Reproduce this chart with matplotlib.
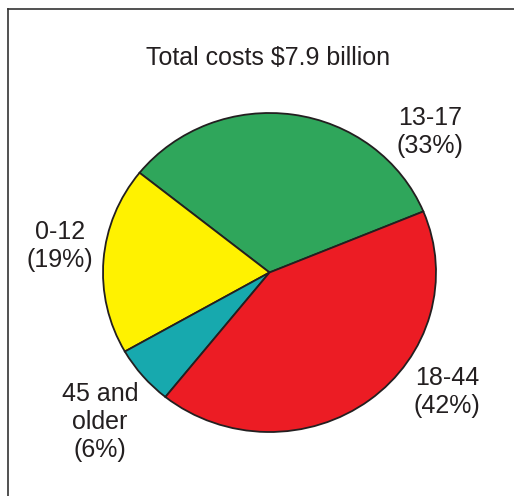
import matplotlib
matplotlib.use('Agg')
import matplotlib.pyplot as plt
from matplotlib.lines import Line2D

# data
groups = ['13-17', '0-12', '45 and\nolder', '18-44']
shares = [33, 19, 6, 42]
colors = ['#2fa65b', '#fff200', '#17a9ae', '#ec1c24']
title = 'Total costs $7.9 billion'

plt.rcParams['font.family'] = ['Liberation Sans', 'DejaVu Sans']
txt_color = '#231f20'

fig = plt.figure(figsize=(5.14, 4.96), dpi=100)
W, H = 514, 496

ax = fig.add_axes([0, 0, 1, 1])
ax.pie(shares, colors=colors, startangle=22.5, counterclock=True,
       wedgeprops=dict(edgecolor='#231f20', linewidth=1.3))

# pie centre and radii in pixels (slightly squashed, like the original)
cx, cy = 269.5, 272.5
rx, ry = 166.5, 159.5
ax.set_aspect('auto')
ax.set_xlim(-cx / rx, (W - cx) / rx)
ax.set_ylim(-(H - cy) / ry, cy / ry)
ax.axis('off')

# frame: left and top edges only
fig.add_artist(Line2D([8 / W, 8 / W], [0, 1 - 8.5 / H], transform=fig.transFigure,
                      color='#333333', linewidth=1.2))
fig.add_artist(Line2D([8 / W, 1], [1 - 8.5 / H, 1 - 8.5 / H], transform=fig.transFigure,
                      color='#333333', linewidth=1.2))

fig.text(268 / W, 1 - 58 / H, title, ha='center', va='center', fontsize=18, color=txt_color)

# label positions in pixels (x, y of text centre)
label_pos = [(430, 132), (60, 246), (100, 422), (447, 392)]
for g, s, (x, y) in zip(groups, shares, label_pos):
    fig.text(x / W, 1 - y / H, f'{g}\n({s}%)', ha='center', va='center',
             fontsize=18, color=txt_color, linespacing=1.2)

fig.savefig('out.png', dpi=100)
